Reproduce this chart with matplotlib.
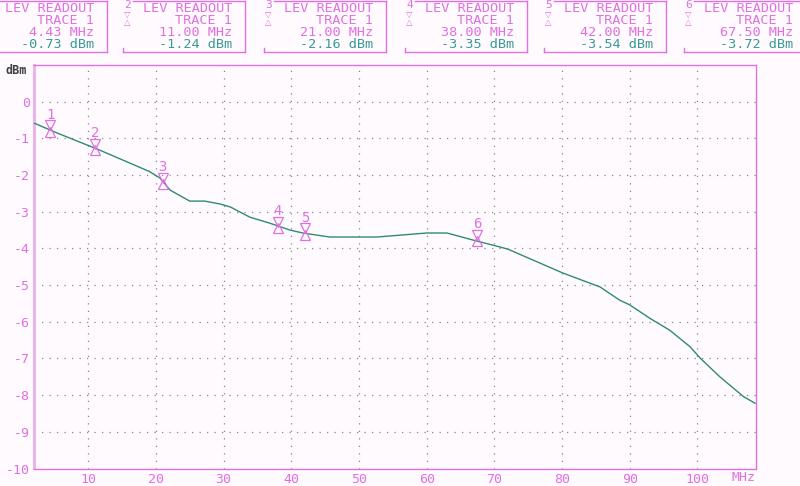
import matplotlib
matplotlib.use("Agg")
import matplotlib.pyplot as plt
from matplotlib.lines import Line2D
from matplotlib.transforms import offset_copy

# trace (MHz, dBm)
freq = [2.1, 5.1, 11.7, 19.0, 20.6, 22.1, 25.0, 27.2, 29.5, 31.0, 33.9, 36.8,
        39.8, 41.7, 45.7, 52.6, 56.0, 60.0, 63.0, 66.8, 70.8, 72.0, 80.1, 85.6,
        88.5, 90.0, 93.0, 95.9, 98.9, 100.4, 103.3, 106.8, 108.5]
level = [-0.59, -0.83, -1.32, -1.90, -2.08, -2.41, -2.71, -2.71, -2.79, -2.87,
         -3.15, -3.31, -3.50, -3.58, -3.69, -3.69, -3.64, -3.58, -3.58, -3.77,
         -3.96, -4.02, -4.67, -5.05, -5.41, -5.54, -5.91, -6.23, -6.68, -6.99,
         -7.50, -8.04, -8.22]

# marker readouts
marker_freq = [4.43, 11.00, 21.00, 38.00, 42.00, 67.50]
marker_level = [-0.73, -1.24, -2.16, -3.35, -3.54, -3.72]

x_ticks = [10, 20, 30, 40, 50, 60, 70, 80, 90, 100]
y_ticks = [0, -1, -2, -3, -4, -5, -6, -7, -8, -9, -10]

PINK = "#e070e0"
LIGHT_PINK = "#ecb4ec"
TEAL = "#3a9a96"
TRACE = "#2f8a78"
BG = "#fefafe"
MONO = "DejaVu Sans Mono"
W, H = 800, 486

fig = plt.figure(figsize=(8, 4.86), dpi=100, facecolor=BG)
ax = fig.add_axes([34 / W, 1 - 468.5 / H, (755.7 - 34) / W, (468.5 - 65) / H])
ax.set_facecolor(BG)
ax.set_xlim(2, 108.6)
ax.set_ylim(-10, 1)

ax.plot(freq, level, color=TRACE, lw=1.0, zorder=3)

# dotted grid
for xv in x_ticks:
    ax.axvline(xv, color="#888888", lw=0.9, ls=(0, (1, 5)), zorder=1)
for yv in y_ticks[:-1]:
    ax.axhline(yv, color="#888888", lw=0.9, ls=(0, (1, 5)), zorder=1)

ax.set_xticks(x_ticks)
ax.set_yticks(y_ticks)
ax.set_xticklabels([str(v) for v in x_ticks])
ax.set_yticklabels([str(v) for v in y_ticks])
ax.tick_params(length=0, colors=PINK, labelsize=9.5, pad=3)
for lab in ax.get_xticklabels() + ax.get_yticklabels():
    lab.set_family(MONO)

for side in ["top", "right", "bottom"]:
    ax.spines[side].set_color(PINK)
    ax.spines[side].set_linewidth(1.0)
ax.spines["left"].set_color(LIGHT_PINK)
ax.spines["left"].set_linewidth(2.2)

fig.text(5 / W, 1 - 70 / H, "dBm", family=MONO, fontsize=8.5, weight="bold",
         color="#404040", va="center", ha="left")
fig.text(744 / W, 1 - 477 / H, "MHz", family=MONO, fontsize=9.5,
         color=PINK, va="center", ha="center")

# markers on the trace: number, then hourglass of triangles
up = offset_copy(ax.transData, fig=fig, x=0, y=2.2, units="points")
dn = offset_copy(ax.transData, fig=fig, x=0, y=-2.2, units="points")
for i, (mf, ml) in enumerate(zip(marker_freq, marker_level)):
    ax.plot([mf], [ml], marker="v", ms=6.5, mfc="none", mec=PINK, mew=0.9,
            transform=up, zorder=4, clip_on=False)
    ax.plot([mf], [ml], marker="^", ms=6.5, mfc="none", mec=PINK, mew=0.9,
            transform=dn, zorder=4, clip_on=False)
    ax.annotate(str(i + 1), (mf, ml), xytext=(0, 10), textcoords="offset points",
                ha="center", va="center", color=PINK, family=MONO, fontsize=10)

# readout boxes along the top
box_right = [107, 245, 386, 527, 666, 806]
fx = lambda p: p / W
fy = lambda p: 1 - p / H
for i, (mf, ml) in enumerate(zip(marker_freq, marker_level)):
    r = box_right[i]
    l = r - 122
    fig.add_artist(Line2D([fx(l + 10), fx(r)], [fy(1), fy(1)], color=PINK, lw=1.0))
    fig.add_artist(Line2D([fx(r), fx(r)], [fy(1), fy(52)], color=PINK, lw=1.0))
    fig.add_artist(Line2D([fx(l), fx(r)], [fy(52), fy(52)], color=PINK, lw=1.0))
    fig.add_artist(Line2D([fx(l), fx(l)], [fy(48), fy(52)], color=PINK, lw=1.0))
    tx = fx(r - 13)
    fig.text(tx, fy(8), "LEV READOUT", family=MONO, fontsize=9.7, color=PINK,
             ha="right", va="center")
    fig.text(tx, fy(20), "TRACE 1", family=MONO, fontsize=9.7, color=PINK,
             ha="right", va="center")
    fig.text(tx, fy(33), f"{mf:.2f} MHz", family=MONO, fontsize=9.7, color=PINK,
             ha="right", va="center")
    fig.text(tx, fy(45), f"{ml:.2f} dBm", family=MONO, fontsize=9.7, color=TEAL,
             ha="right", va="center")
    if i > 0:
        fig.text(fx(l + 1), fy(5), str(i + 1), family=MONO, fontsize=8, color=PINK,
                 ha="left", va="center")
        fig.text(fx(l + 1), fy(14), "\u25bd", family="DejaVu Sans", fontsize=6,
                 color=PINK, ha="left", va="center")
        fig.text(fx(l + 1), fy(22), "\u25b3", family="DejaVu Sans", fontsize=6,
                 color=PINK, ha="left", va="center")

fig.savefig("out.png", dpi=100, facecolor=BG)
